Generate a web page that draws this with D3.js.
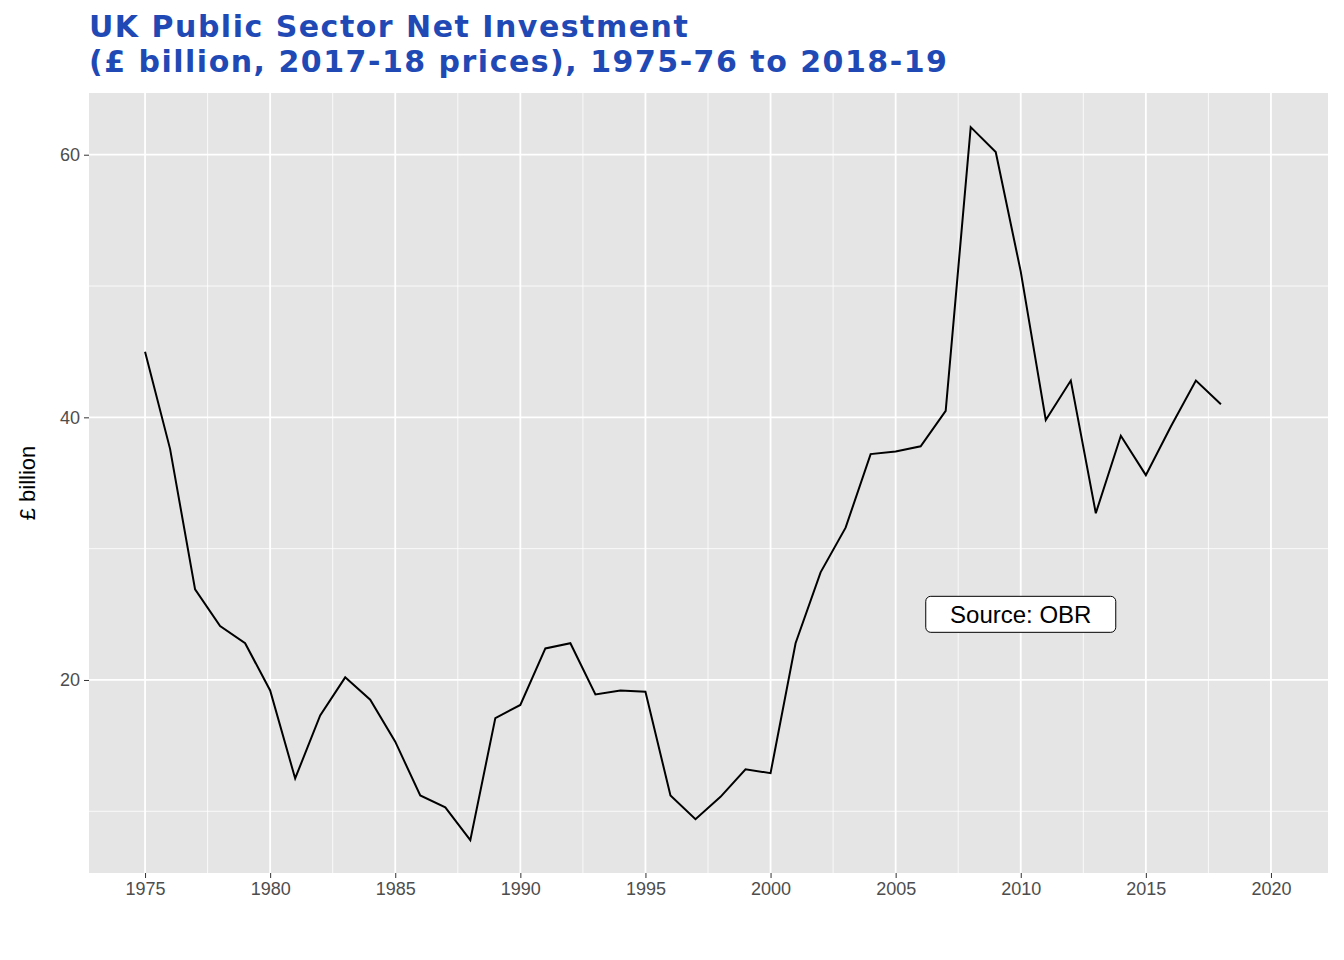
<!DOCTYPE html>
<html><head><meta charset="utf-8">
<script src="https://cdn.jsdelivr.net/npm/d3@7"></script>
<style>body{margin:0;background:#fff}text{font-family:"Liberation Sans",Arial,sans-serif}</style>
</head><body><svg id="c" width="1344" height="960"></svg>
<script>
const years = d3.range(1975, 2019);
const values = [45.0,37.6,26.9,24.1,22.8,19.2,12.5,17.3,20.2,18.5,15.3,11.2,10.3,7.8,17.1,18.1,22.4,22.8,18.9,19.2,19.1,11.2,9.4,11.1,13.2,12.9,22.8,28.2,31.6,37.2,37.4,37.8,40.5,62.1,60.2,51.1,39.8,42.8,32.7,38.6,35.6,39.3,42.8,41.0];
const xTicks = [1975,1980,1985,1990,1995,2000,2005,2010,2015,2020];
const yTicks = [20,40,60];

const svg = d3.select("#c");
const L=89,R=1328,T=93,B=873;
const x = d3.scaleLinear().domain([1972.76,2022.28]).range([L,R]);
const y = d3.scaleLinear().domain([5.3,64.7]).range([B,T]);

svg.append("rect").attr("x",L).attr("y",T).attr("width",R-L).attr("height",B-T).attr("fill","#e5e5e5");
const g = svg.append("g");
d3.range(1972.5,2023,2.5).filter(v=>v%5!==0&&x(v)>L).forEach(v=>
  g.append("line").attr("x1",x(v)).attr("x2",x(v)).attr("y1",T).attr("y2",B).attr("stroke","#fff").attr("stroke-width",0.8));
[10,30,50].forEach(v=>g.append("line").attr("x1",L).attr("x2",R).attr("y1",y(v)).attr("y2",y(v)).attr("stroke","#fff").attr("stroke-width",0.8));
xTicks.forEach(v=>g.append("line").attr("x1",x(v)).attr("x2",x(v)).attr("y1",T).attr("y2",B).attr("stroke","#fff").attr("stroke-width",1.8));
yTicks.forEach(v=>g.append("line").attr("x1",L).attr("x2",R).attr("y1",y(v)).attr("y2",y(v)).attr("stroke","#fff").attr("stroke-width",1.8));

const xa = svg.append("g").attr("transform",`translate(0,${B})`).call(d3.axisBottom(x).tickValues(xTicks).tickFormat(d3.format("d")).tickSize(5).tickPadding(4));
const ya = svg.append("g").attr("transform",`translate(${L},0)`).call(d3.axisLeft(y).tickValues(yTicks).tickSize(5).tickPadding(4));
[xa,ya].forEach(a=>{a.select(".domain").remove();a.selectAll("line").attr("stroke","#333");a.selectAll("text").attr("fill","#4d4d4d").style("font-size","18px");});

svg.append("path").datum(years.map((yr,i)=>[yr,values[i]]))
  .attr("d",d3.line().x(d=>x(d[0])).y(d=>y(d[1]))).attr("fill","none").attr("stroke","#000").attr("stroke-width",2);

svg.append("text").attr("transform",`translate(35,${(T+B)/2}) rotate(-90)`).attr("text-anchor","middle").style("font-size","22px").text("£ billion");

const lab = svg.append("g").attr("transform",`translate(${x(2010)},${y(25)})`);
lab.append("rect").attr("x",-95).attr("y",-18).attr("width",190).attr("height",36).attr("rx",5).attr("fill","#fff").attr("stroke","#000").attr("stroke-width",1);
lab.append("text").attr("text-anchor","middle").attr("dy","0.35em").style("font-size","24px").text("Source: OBR");

const tt = svg.append("text").attr("fill","#2149b5").style("font-family","Verdana,'DejaVu Sans',sans-serif").style("font-weight","bold").style("font-size","30px").style("letter-spacing","1.5px");
tt.append("tspan").attr("x",89).attr("y",37).text("UK Public Sector Net Investment");
tt.append("tspan").attr("x",89).attr("y",72).text("(£ billion, 2017-18 prices), 1975-76 to 2018-19");
</script></body></html>
